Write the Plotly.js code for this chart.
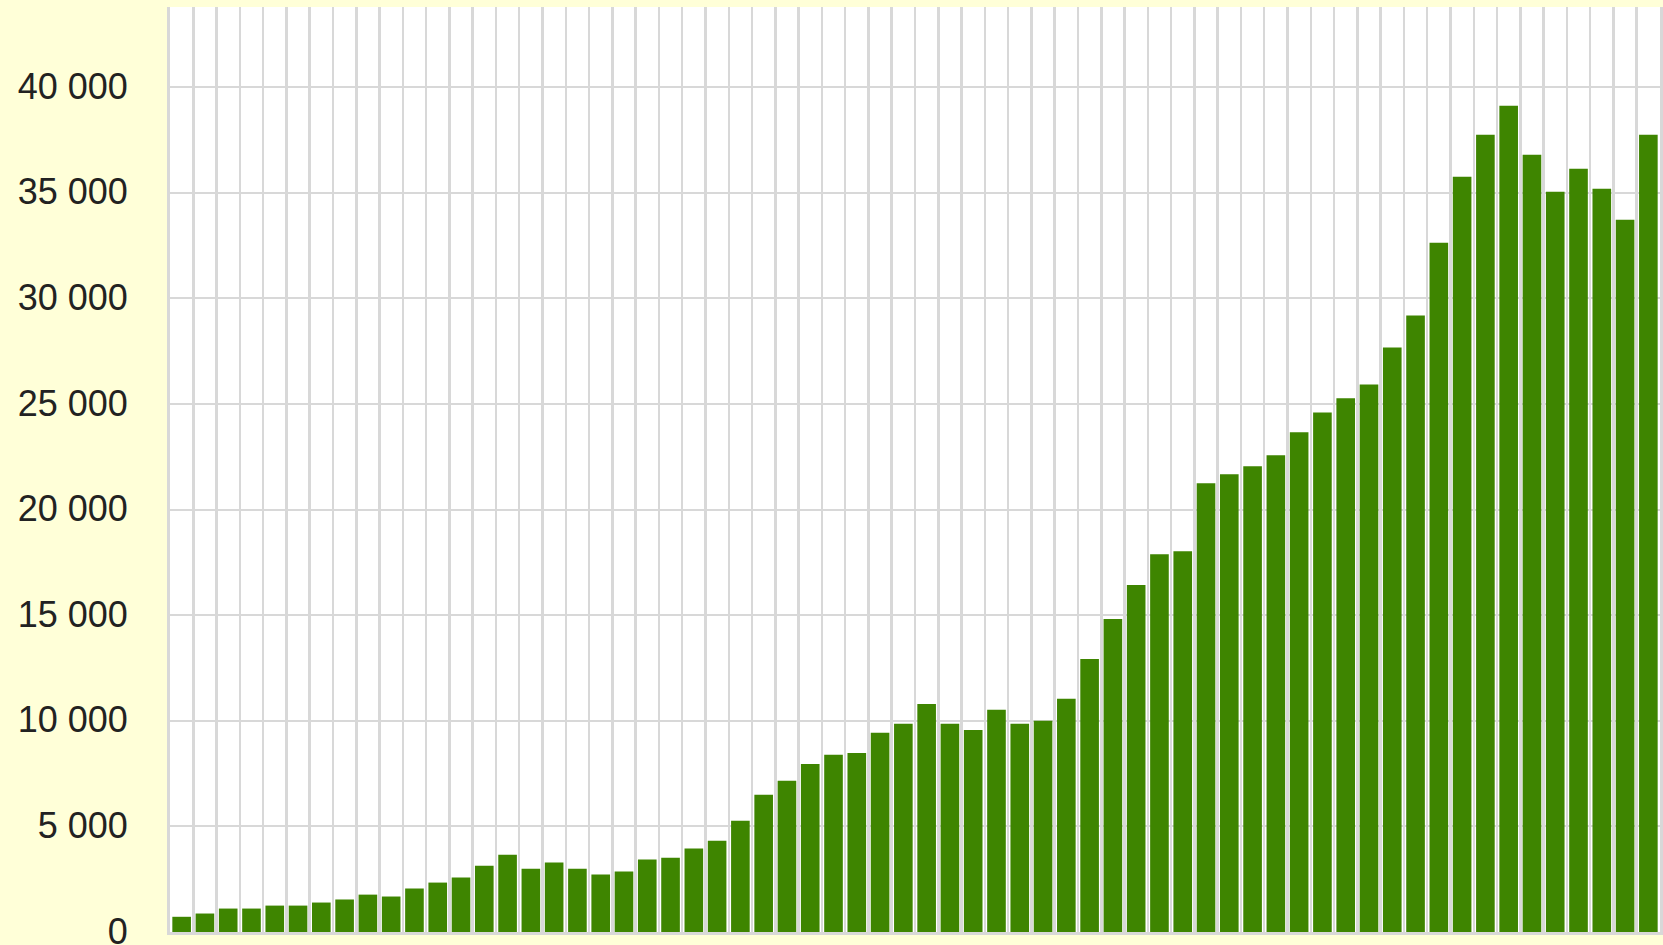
<!DOCTYPE html>
<html>
<head>
<meta charset="utf-8">
<script src="https://cdn.plot.ly/plotly-3.0.1.min.js"></script>
<style>
  html, body { margin: 0; padding: 0; background: #ffffd8; }
  #chart { width: 1663px; height: 945px; }
</style>
</head>
<body>
<div id="chart"></div>
<script>
// Categories (no labels are shown in the reference): 64 consecutive periods
const categories = [
  1,2,3,4,5,6,7,8,9,10,11,12,13,14,15,16,17,18,19,20,21,22,23,24,25,26,27,28,29,30,31,32,
  33,34,35,36,37,38,39,40,41,42,43,44,45,46,47,48,49,50,51,52,53,54,55,56,57,58,59,60,61,62,63,64
];

// Series values
const values = [
  720, 875, 1110, 1110, 1250, 1250, 1395, 1540, 1770, 1680,
  2060, 2340, 2580, 3140, 3660, 3000, 3290, 3000, 2720, 2860,
  3430, 3520, 3950, 4320, 5270, 6500, 7160, 7960, 8390, 8480,
  9430, 9860, 10800, 9860, 9570, 10520, 9860, 10000, 11040, 12930,
  14820, 16430, 17890, 18030, 21250, 21670, 22050, 22570, 23660, 24600,
  25270, 25930, 27680, 29190, 32640, 35760, 37750, 39120, 36800, 35050,
  36140, 35190, 33730, 37750
];

// Y axis tick labels
const yTickVals = [0, 5000, 10000, 15000, 20000, 25000, 30000, 35000, 40000];
const yTickText = ['0', '5 000', '10 000', '15 000', '20 000', '25 000', '30 000', '35 000', '40 000'];

const gridColor = '#d8d8d8';

const trace = {
  type: 'bar',
  x: categories,
  y: values,
  marker: { color: '#3e8500', line: { width: 0 } },
  hoverinfo: 'y'
};

const layout = {
  width: 1663,
  height: 945,
  paper_bgcolor: '#ffffd8',
  plot_bgcolor: '#ffffff',
  margin: { l: 170, r: 3, t: 7, b: 13, pad: 0 },
  bargap: 0.2,
  showlegend: false,
  xaxis: {
    type: 'linear',
    range: [0.5, 64.5],
    tick0: 0.5,
    dtick: 1,
    showgrid: true,
    gridcolor: gridColor,
    gridwidth: 2.5,
    showticklabels: false,
    ticks: '',
    zeroline: false,
    showline: true,
    linecolor: gridColor,
    linewidth: 3,
    fixedrange: true
  },
  yaxis: {
    range: [0, 43800],
    tickmode: 'array',
    tickvals: yTickVals,
    ticktext: yTickText,
    showgrid: true,
    gridcolor: gridColor,
    gridwidth: 2,
    zeroline: false,
    showline: true,
    mirror: true,
    linecolor: gridColor,
    linewidth: 3,
    ticks: '',
    ticklabelstandoff: 32,
    ticklabelshift: -1,
    ticklabeloverflow: 'allow',
    tickfont: { family: 'Liberation Sans, Arial, sans-serif', size: 36, color: '#222222' },
    fixedrange: true
  }
};

Plotly.newPlot('chart', [trace], layout, { displayModeBar: false, staticPlot: true });
</script>
</body>
</html>
